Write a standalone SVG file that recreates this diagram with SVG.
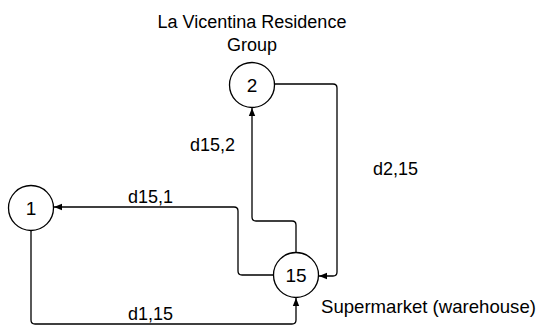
<svg xmlns="http://www.w3.org/2000/svg" width="539" height="327" viewBox="0 0 539 327">
<defs>
<style>
.node circle{fill:#fff;stroke:#000;stroke-width:1.3}
text{font-family:"Liberation Sans",Arial,sans-serif;font-size:18px;fill:#000}
.num{text-anchor:middle;font-size:19px}
.edge{fill:none;stroke:#000;stroke-width:1.3}
</style>
<marker id="arr" markerWidth="8" markerHeight="8" viewBox="0 0 8 8" refX="8" refY="4" orient="auto" markerUnits="userSpaceOnUse">
<path d="M0,0.8 L8,4 L0,7.2 Z" fill="#000"/>
</marker>
</defs>
<rect width="539" height="327" fill="#fff"/>
<g id="connectors">
<path class="edge" d="M31,230 V320 Q31,324 35,324 H292 Q296,324 296,320 V298" marker-end="url(#arr)"/>
<path class="edge" d="M274,275 H242 Q238,275 238,271 V211 Q238,207 234,207 H54" marker-end="url(#arr)"/>
<path class="edge" d="M296,253 V225 Q296,221 292,221 H256 Q252,221 252,217 V108" marker-end="url(#arr)"/>
<path class="edge" d="M274,84 H333 Q337,84 337,88 V272 Q337,276 333,276 H319" marker-end="url(#arr)"/>
<text x="128" y="203">d15,1</text>
<text x="128" y="320">d1,15</text>
<text x="190" y="151">d15,2</text>
<text x="373" y="175">d2,15</text>
</g>
<g id="node1" class="node">
<circle cx="31" cy="208" r="22.5"/>
<text class="num" x="31" y="215">1</text>
</g>
<g id="node2" class="node">
<circle cx="252" cy="85" r="22.5"/>
<text class="num" x="252" y="92">2</text>
<text x="252" y="28" text-anchor="middle">La Vicentina Residence</text>
<text x="252" y="51" text-anchor="middle">Group</text>
</g>
<g id="node15" class="node">
<circle cx="296" cy="275" r="22.5"/>
<text class="num" x="296" y="282">15</text>
<text x="321" y="313" style="font-size:18.6px">Supermarket (warehouse)</text>
</g>
</svg>
